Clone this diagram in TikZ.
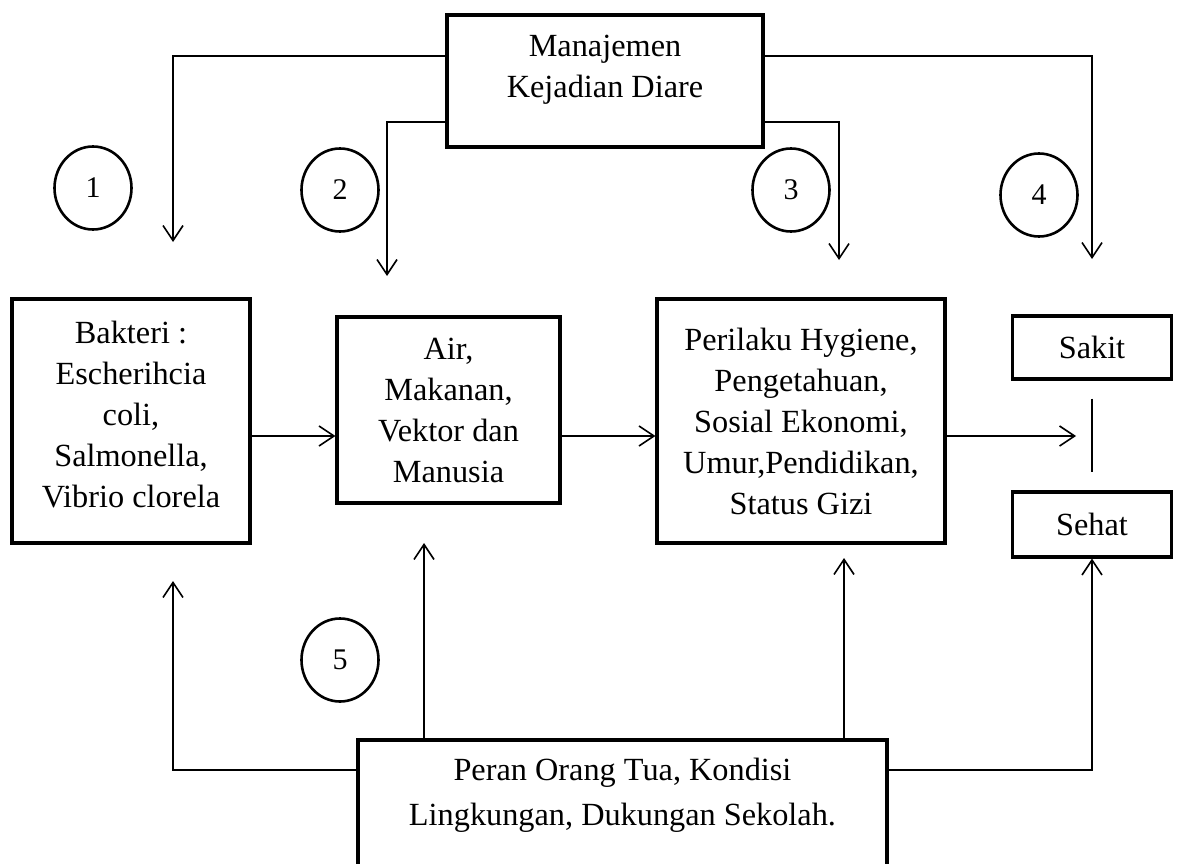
\documentclass[tikz,border=0pt]{standalone}
\usepackage{fontspec}
\setmainfont{Liberation Serif}
\usetikzlibrary{arrows.meta,shapes.geometric}
\begin{document}
\begin{tikzpicture}[x=1pt,y=-1pt,
  box/.style={draw, line width=3.2pt, inner sep=0pt, align=center, font=\fontsize{32.3}{41}\selectfont},
  num/.style={draw, ellipse, line width=2.6pt, minimum width=77pt, minimum height=83pt, inner sep=0pt, font=\fontsize{30}{36}\selectfont},
  conn/.style={line width=1.6pt},
  arr/.style={conn, -{Straight Barb[length=15pt,width=20pt]}},
  txt/.style={align=center, inner sep=0pt, font=\fontsize{32.3}{41}\selectfont}]
\useasboundingbox (0,0) rectangle (1179,864);

% boxes
\node[box, minimum width=316pt, minimum height=132pt] (mgmt) at (605,81) {};
\node[txt] (mgmttext) at (605,70) {Manajemen\\Kejadian Diare};

\node[box, minimum width=238pt, minimum height=244pt] (bakteri) at (131,421) {};
\node[txt] (bakteritext) at (131,415) {Bakteri :\\Escherihcia\\coli,\\Salmonella,\\Vibrio clorela};

\node[box, minimum width=223pt, minimum height=186pt] (air) at (448.5,410) {Air,\\Makanan,\\Vektor dan\\Manusia};

\node[box, minimum width=288pt, minimum height=244pt] (perilaku) at (801,421) {Perilaku Hygiene,\\Pengetahuan,\\Sosial Ekonomi,\\Umur,Pendidikan,\\Status Gizi};

\node[box, minimum width=159pt, minimum height=63pt] (sakit) at (1092,347.5) {Sakit};
\node[box, minimum width=159pt, minimum height=65pt] (sehat) at (1092,524.5) {Sehat};

\node[box, minimum width=529pt, minimum height=128pt] (bottom) at (622.5,804) {};
\node[txt, font=\fontsize{32.3}{45}\selectfont] (bottomtext) at (622.5,795) {Peran Orang Tua, Kondisi\\Lingkungan, Dukungan Sekolah.};

% numbered circles
\node[num] (c1) at (93,188) {1};
\node[num] (c2) at (340,190) {2};
\node[num] (c3) at (791,190) {3};
\node[num] (c4) at (1039,195) {4};
\node[num] (c5) at (340,660) {5};

% free arrow ends
\coordinate (e1) at (173,242);
\coordinate (e2) at (387,276);
\coordinate (e3) at (839,260);
\coordinate (e4) at (1092,259);
\coordinate (e7) at (1076,436);
\coordinate (e9) at (173,581);
\coordinate (e10) at (424,543);
\coordinate (e11) at (844,558);

% top connectors
\draw[arr] (mgmt.west |- 0,56) -| (e1);
\draw[arr] (mgmt.west |- 0,122) -| (e2);
\draw[arr] (mgmt.east |- 0,122) -| (e3);
\draw[arr] (mgmt.east |- 0,56) -| (e4);

% middle connectors
\draw[arr] (bakteri.east |- 0,436) -- (air.west |- 0,436);
\draw[arr] (air.east |- 0,436) -- (perilaku.west |- 0,436);
\draw[arr] (perilaku.east |- 0,436) -- (e7);
\draw[conn] ([yshift=-18pt]sakit.south) -- ([yshift=18pt]sehat.north);

% bottom connectors
\draw[arr] (bottom.west |- 0,770) -| (e9);
\draw[arr] (bottom.north -| e10) -- (e10);
\draw[arr] (bottom.north -| e11) -- (e11);
\draw[arr] (bottom.east |- 0,770) -| (sehat.south);
\end{tikzpicture}
\end{document}
